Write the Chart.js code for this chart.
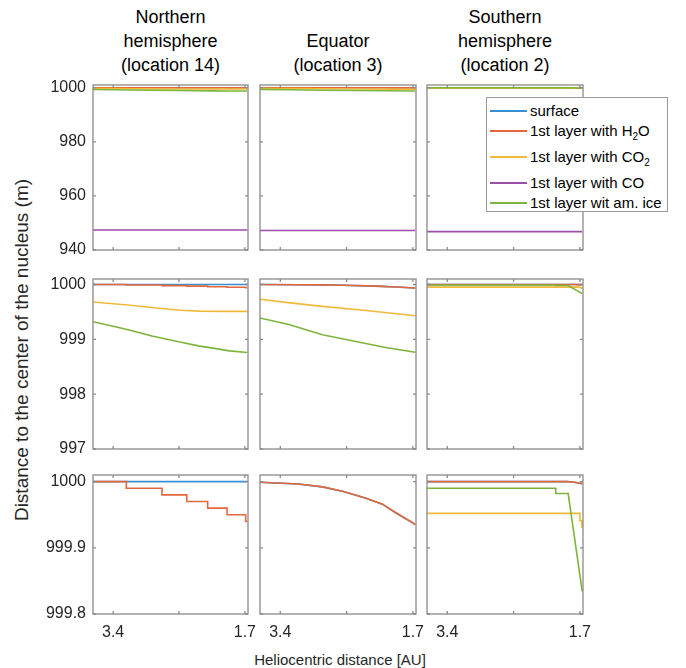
<!DOCTYPE html>
<html>
<head>
<meta charset="utf-8">
<script src="https://cdn.jsdelivr.net/npm/chart.js@4.4.0/dist/chart.umd.min.js"></script>
<style>
  body { margin: 0; background: #fff; }
  #fig { position: relative; width: 686px; height: 668px; font-family: 'Liberation Sans', Arial, sans-serif; color: #000; overflow: hidden; }
  #fig canvas { position: absolute; }
  .ttl { position: absolute; width: 200px; text-align: center; font-size: 18px; line-height: 24px; }
  .lbl { position: absolute; width: 440px; height: 24px; line-height: 24px; text-align: center; font-size: 15px; color: #262626; }
  #legend { position: absolute; left: 486px; top: 97px; width: 180px; height: 113px; border: 1px solid #9a9a9a; background: #fff; z-index: 5; }
  #legend .sw { position: absolute; left: 3px; width: 37px; height: 2px; }
  #legend .tx { position: absolute; left: 43px; font-size: 15px; line-height: 18px; white-space: nowrap; color: #000; }
  #legend sub { font-size: 10px; vertical-align: -4px; line-height: 0; }
</style>
</head>
<body>
<div id="fig">
  <div class="lbl" id="ylab" style="left:-198px; top:338px; font-size:19px; transform:rotate(-90deg);">Distance to the center of the nucleus (m)</div>
  <div class="lbl" style="left:120px; top:648px;">Heliocentric distance [AU]</div>
  <div id="legend"></div>
</div>
<script>
// x axis: heliocentric distance (AU), decreasing to the right
const distTicks = [3.4, 2.55, 1.7];
const distTickLabels = ['3.4', '', '1.7'];
const distMin = 1.66;
const distMax = 3.66;

// y axis of each row (same data, three zoom levels)
const rowMin = [940, 997, 999.8];
const rowMax = [1001, 1000.1, 1000.01];
const rowTicks = [[940, 960, 980, 1000], [997, 998, 999, 1000], [999.8, 999.9, 1000]];

const columnTitles = [
  ['Northern', 'hemisphere', '(location 14)'],
  ['Equator', '(location 3)'],
  ['Southern', 'hemisphere', '(location 2)']
];

const seriesNames = ['surface', '1st layer with H<sub>2</sub>O', '1st layer with CO<sub>2</sub>', '1st layer with CO', '1st layer wit am. ice'];
const seriesColors = ['#3a8fd2', '#e2683c', '#f0b93a', '#9a4fa8', '#7db43e'];
const seriesStepped = [
  [false, true, false, false, false],
  [false, false, false, false, false],
  [false, false, true, false, false]
];

// Northern hemisphere (location 14)
const northSurface = [[3.66, 1000], [1.67, 1000]];
const northH2O = [[3.66, 1000], [3.23, 999.99], [2.77, 999.98], [2.45, 999.97], [2.18, 999.96], [1.93, 999.95], [1.69, 999.94], [1.67, 999.94]];
const northCO2 = [[3.66, 999.68], [3.4, 999.65], [3.18, 999.62], [2.9, 999.58], [2.54, 999.53], [2.3, 999.515], [2.0, 999.51], [1.67, 999.51]];
const northCO = [[3.66, 947.4], [1.67, 947.4]];
const northAmIce = [[3.66, 999.32], [3.4, 999.24], [3.18, 999.165], [2.9, 999.06], [2.54, 998.95], [2.3, 998.88], [2.11, 998.84], [1.9, 998.79], [1.67, 998.76]];

// Equator (location 3)
const equatorSurface = [[3.66, 999.999], [3.17, 999.9965], [2.86, 999.992], [2.59, 999.985], [2.3, 999.975], [2.09, 999.966], [1.92, 999.953], [1.79, 999.944], [1.69, 999.937], [1.67, 999.935]];
const equatorH2O = [[3.66, 999.999], [3.17, 999.9965], [2.86, 999.992], [2.59, 999.985], [2.3, 999.975], [2.09, 999.966], [1.92, 999.953], [1.79, 999.944], [1.69, 999.937], [1.67, 999.935]];
const equatorCO2 = [[3.66, 999.73], [3.3, 999.67], [2.86, 999.6], [2.3, 999.525], [2.0, 999.48], [1.67, 999.43]];
const equatorCO = [[3.66, 947.2], [1.67, 947.2]];
const equatorAmIce = [[3.66, 999.39], [3.29, 999.27], [2.86, 999.085], [2.43, 998.96], [2.05, 998.85], [1.67, 998.765]];

// Southern hemisphere (location 2)
const southSurface = [[3.66, 1000], [1.86, 1000], [1.77, 999.999], [1.72, 999.998], [1.67, 999.997]];
const southH2O = [[3.66, 1000], [1.86, 1000], [1.77, 999.999], [1.72, 999.998], [1.67, 999.997]];
const southCO2 = [[3.66, 999.952], [1.70, 999.941], [1.674, 999.931], [1.667, 999.931]];
const southCO = [[3.66, 946.8], [1.67, 946.8]];
const southAmIce = [[3.66, 999.99], [2.01, 999.99], [2.01, 999.982], [1.85, 999.982], [1.67, 999.834]];

const columnSeries = [
  [northSurface, northH2O, northCO2, northCO, northAmIce],
  [equatorSurface, equatorH2O, equatorCO2, equatorCO, equatorAmIce],
  [southSurface, southH2O, southCO2, southCO, southAmIce]
];

// panel geometry (px)
const colLeft = [93, 260, 427];
const colRight = [248, 416, 583];
const rowTop = [85, 279, 475];
const rowBottom = [250, 449, 614];
const PAD_L = 80, PAD_T = 12, PAD_R = 14, PAD_B = 40;

const fontFamily = "'Liberation Sans', Arial, sans-serif";
const fig = document.getElementById('fig');

// draws the full box and inward tick marks (MATLAB style)
const panelBox = {
  id: 'panelBox',
  afterDatasetsDraw(chart) {
    const { ctx, chartArea: a, scales } = chart;
    ctx.save();
    ctx.strokeStyle = '#8a8a8a';
    ctx.lineWidth = 1.3;
    ctx.strokeRect(a.left, a.top, a.right - a.left, a.bottom - a.top);
    ctx.beginPath();
    scales.x.ticks.forEach(t => {
      const px = scales.x.getPixelForValue(t.value);
      ctx.moveTo(px, a.bottom); ctx.lineTo(px, a.bottom - 3);
      ctx.moveTo(px, a.top); ctx.lineTo(px, a.top + 3);
    });
    scales.y.ticks.forEach(t => {
      const py = scales.y.getPixelForValue(t.value);
      ctx.moveTo(a.left, py); ctx.lineTo(a.left + 3, py);
      ctx.moveTo(a.right, py); ctx.lineTo(a.right - 3, py);
    });
    ctx.stroke();
    ctx.restore();
  }
};

function zeroPadding(s) {
  s.paddingLeft = 0; s.paddingRight = 0; s.paddingTop = 0; s.paddingBottom = 0;
}

columnTitles.forEach((lines, c) => {
  const div = document.createElement('div');
  div.className = 'ttl';
  div.style.left = ((colLeft[c] + colRight[c]) / 2 - 100) + 'px';
  div.style.top = (5 + (3 - lines.length) * 24) + 'px';
  div.innerHTML = lines.join('<br>');
  fig.appendChild(div);
});

for (let r = 0; r < 3; r++) {
  for (let c = 0; c < 3; c++) {
    const w = colRight[c] - colLeft[c] + PAD_L + PAD_R;
    const h = rowBottom[r] - rowTop[r] + PAD_T + PAD_B;
    const canvas = document.createElement('canvas');
    canvas.width = w;
    canvas.height = h;
    canvas.style.left = (colLeft[c] - PAD_L) + 'px';
    canvas.style.top = (rowTop[r] - PAD_T) + 'px';
    canvas.style.width = w + 'px';
    canvas.style.height = h + 'px';
    fig.appendChild(canvas);

    new Chart(canvas.getContext('2d'), {
      type: 'line',
      data: {
        datasets: columnSeries[c].map((pts, i) => ({
          label: seriesNames[i],
          data: pts,
          borderColor: seriesColors[i],
          borderWidth: 1.6,
          pointRadius: 0,
          tension: 0,
          stepped: seriesStepped[c][i],
          order: 5 - i
        }))
      },
      options: {
        animation: false,
        responsive: false,
        devicePixelRatio: 1,
        layout: { padding: { top: PAD_T, right: PAD_R, left: 0, bottom: 0 } },
        plugins: { legend: { display: false }, tooltip: { enabled: false } },
        scales: {
          x: {
            type: 'linear',
            reverse: true,
            min: distMin,
            max: distMax,
            grid: { display: false, drawTicks: false },
            border: { display: false },
            ticks: {
              display: r === 2,
              autoSkip: false,
              maxRotation: 0,
              padding: 9,
              color: '#262626',
              font: { family: fontFamily, size: 16 },
              callback: (v, i) => distTickLabels[i]
            },
            afterBuildTicks: s => { s.ticks = distTicks.map(v => ({ value: v })); },
            afterFit: s => { s.height = PAD_B; zeroPadding(s); }
          },
          y: {
            type: 'linear',
            min: rowMin[r],
            max: rowMax[r],
            grid: { display: false, drawTicks: false },
            border: { display: false },
            ticks: {
              display: c === 0,
              autoSkip: false,
              padding: 7,
              color: '#262626',
              font: { family: fontFamily, size: 16 },
              callback: v => String(v)
            },
            afterBuildTicks: s => { s.ticks = rowTicks[r].map(v => ({ value: v })); },
            afterFit: s => { s.width = PAD_L; zeroPadding(s); }
          }
        }
      },
      plugins: [panelBox]
    });
  }
}

// legend
const legend = document.getElementById('legend');
const legendRowCenters = [13, 33, 59, 85, 105];
seriesNames.forEach((name, i) => {
  const sw = document.createElement('div');
  sw.className = 'sw';
  sw.style.top = (legendRowCenters[i] - 1) + 'px';
  sw.style.background = seriesColors[i];
  legend.appendChild(sw);
  const tx = document.createElement('div');
  tx.className = 'tx';
  tx.style.top = (legendRowCenters[i] - 9) + 'px';
  tx.innerHTML = name;
  legend.appendChild(tx);
});
</script>
</body>
</html>
